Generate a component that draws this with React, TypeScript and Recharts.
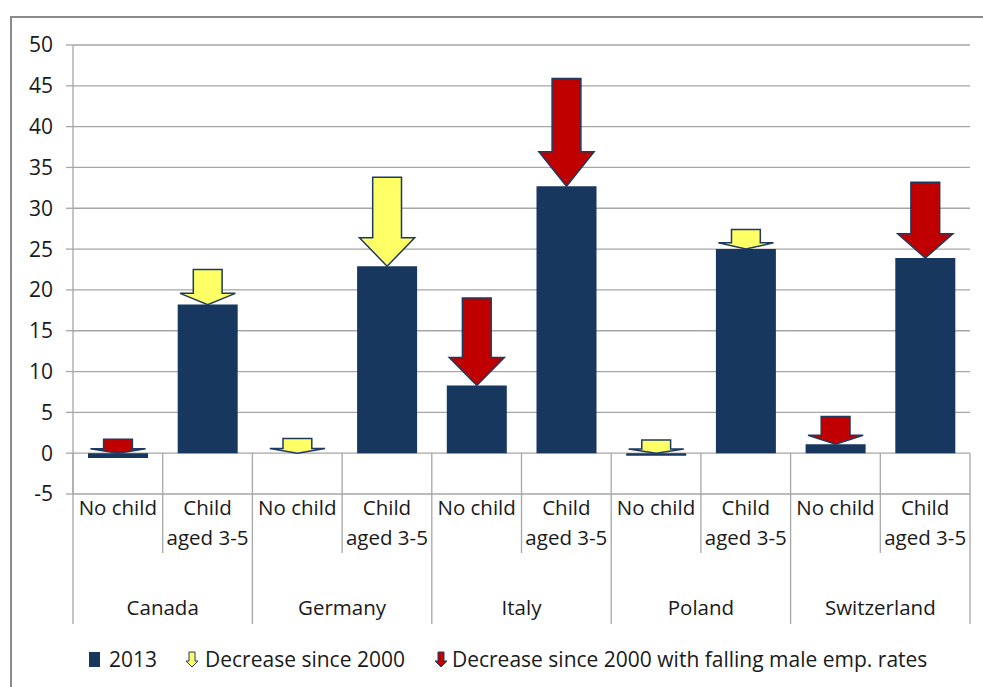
import React from 'react';
import { BarChart, Bar, XAxis, YAxis, CartesianGrid } from 'recharts';

// Female employment rate gap, 2013 vs 2000
const countries = ['Canada', 'Germany', 'Italy', 'Poland', 'Switzerland'];
const groups = ['No child', 'Child aged 3-5'];
const rate2013 = [-0.6, 18.2, 0.0, 22.9, 8.3, 32.7, -0.3, 25.0, 1.1, 23.9];
const rate2000 = [1.7, 22.5, 1.8, 33.8, 19.0, 45.9, 1.6, 27.4, 4.5, 33.2];
const maleFalling = [true, false, false, false, true, true, false, false, true, true];
const yTicks = [-5, 0, 5, 10, 15, 20, 25, 30, 35, 40, 45, 50];

const FONT = '"Open Sans", sans-serif';
const NAVY = '#17375E';
const YELLOW = '#FFFF66';
const RED = '#C00000';
const OUTLINE = '#1F3A60';
const GRID = '#A6A6A6';

const W = 983;
const H = 640;
const MARGIN = { top: 45, right: 13, bottom: 16, left: 13 };
const Y_AXIS_W = 60;
const X_AXIS_H = 130;
const PLOT_W = W - MARGIN.left - MARGIN.right - Y_AXIS_W;
const PLOT_H = H - MARGIN.top - MARGIN.bottom - X_AXIS_H;
const BAND = PLOT_W / rate2013.length;
const PX_PER_UNIT = PLOT_H / (yTicks[yTicks.length - 1] - yTicks[0]);

const data = rate2013.map((v, i) => {
  const span = [Math.max(v, 0), rate2000[i]];
  return {
    key: `${countries[Math.floor(i / 2)]}-${i % 2}`,
    group: groups[i % 2],
    country: countries[Math.floor(i / 2)],
    v2013: v,
    decrease: maleFalling[i] ? null : span,
    decreaseMale: maleFalling[i] ? span : null,
  };
});

const makeArrow = (fill: string) => (props: any) => {
  const { x, y, width, height } = props;
  if (x == null || y == null || height == null || isNaN(height)) return null;
  const top = Math.min(y, y + height);
  const len = Math.abs(height);
  if (len < 0.5) return null;
  const cx = x + width / 2;
  const shaftW = width * 0.48;
  const headW = width * 0.92;
  const headH = len * 0.32;
  const neck = top + len - headH;
  const pts = [
    [cx - shaftW / 2, top],
    [cx + shaftW / 2, top],
    [cx + shaftW / 2, neck],
    [cx + headW / 2, neck],
    [cx, top + len],
    [cx - headW / 2, neck],
    [cx - shaftW / 2, neck],
  ]
    .map((p) => p.join(','))
    .join(' ');
  return <polygon points={pts} fill={fill} stroke={OUTLINE} strokeWidth={1.5} />;
};

const CategoryTick = (props: any) => {
  const { x, y, index } = props;
  const left = x - BAND / 2;
  const zeroUp = (0 - yTicks[0]) * PX_PER_UNIT;
  const isFirst = index % 2 === 0;
  const label = data[index].group;
  const lines = label === 'No child' ? ['No child'] : ['Child', 'aged 3-5'];
  const txt = { fontFamily: FONT, fontSize: 20.5, fill: '#1a1a1a', textAnchor: 'middle' as const };
  return (
    <g>
      <line x1={left} x2={left} y1={y - zeroUp} y2={y + (isFirst ? 130 : 59)} stroke={GRID} strokeWidth={1.3} />
      {index === data.length - 1 && (
        <line x1={x + BAND / 2} x2={x + BAND / 2} y1={y - zeroUp} y2={y + 130} stroke={GRID} strokeWidth={1.3} />
      )}
      {lines.map((t, k) => (
        <text key={k} x={x} y={y + 14 + k * 30} dy="0.35em" {...txt}>
          {t}
        </text>
      ))}
      {!isFirst ? null : (
        <text x={x + BAND / 2} y={y + 114} dy="0.35em" {...txt}>
          {data[index].country}
        </text>
      )}
    </g>
  );
};

const LegendArrow = ({ fill }: { fill: string }) => (
  <svg width={14} height={17} style={{ display: 'block' }}>
    <polygon points="4,1 10,1 10,10 13,10 7,16 1,10 4,10" fill={fill} stroke={OUTLINE} strokeWidth={1} />
  </svg>
);

export default function App() {
  return (
    <div style={{ position: 'fixed', left: 0, top: 0, width: W, height: 687, background: '#fff', overflow: 'hidden' }}>
      <div
        style={{
          position: 'absolute',
          left: 10,
          top: 16,
          width: 1000,
          height: 700,
          borderLeft: '2px solid #8A8A8A',
          borderTop: '2px solid #8A8A8A',
        }}
      />
      <div style={{ position: 'absolute', left: 0, top: 0 }}>
        <BarChart width={W} height={H} data={data} margin={MARGIN} barSize={60} barGap={-60}>
          <CartesianGrid vertical={false} stroke={GRID} strokeWidth={1.3} />
          <XAxis
            dataKey="key"
            axisLine={false}
            tickLine={false}
            tickSize={0}
            tickMargin={0}
            interval={0}
            height={X_AXIS_H}
            tick={<CategoryTick />}
          />
          <YAxis
            domain={[-5, 50]}
            ticks={yTicks}
            width={Y_AXIS_W}
            tickSize={7}
            tickMargin={13}
            axisLine={{ stroke: GRID, strokeWidth: 1.3 }}
            tickLine={{ stroke: GRID, strokeWidth: 1.3 }}
            tick={{ fontFamily: FONT, fontSize: 21, fill: '#1a1a1a' }}
          />
          <Bar dataKey="v2013" fill={NAVY} isAnimationActive={false} />
          <Bar dataKey="decrease" shape={makeArrow(YELLOW)} isAnimationActive={false} />
          <Bar dataKey="decreaseMale" shape={makeArrow(RED)} isAnimationActive={false} />
        </BarChart>
      </div>
      <div
        style={{
          position: 'absolute',
          left: 89,
          top: 645,
          display: 'flex',
          alignItems: 'center',
          fontFamily: FONT,
          fontSize: 21,
          color: '#1a1a1a',
          whiteSpace: 'nowrap',
          lineHeight: '28px',
        }}
      >
        <span style={{ width: 11, height: 15, background: NAVY, display: 'inline-block', marginRight: 9 }} />
        <span style={{ marginRight: 28 }}>2013</span>
        <LegendArrow fill={YELLOW} />
        <span style={{ marginLeft: 6, marginRight: 29 }}>Decrease since 2000</span>
        <LegendArrow fill={RED} />
        <span style={{ marginLeft: 4 }}>Decrease since 2000 with falling male emp. rates</span>
      </div>
    </div>
  );
}
